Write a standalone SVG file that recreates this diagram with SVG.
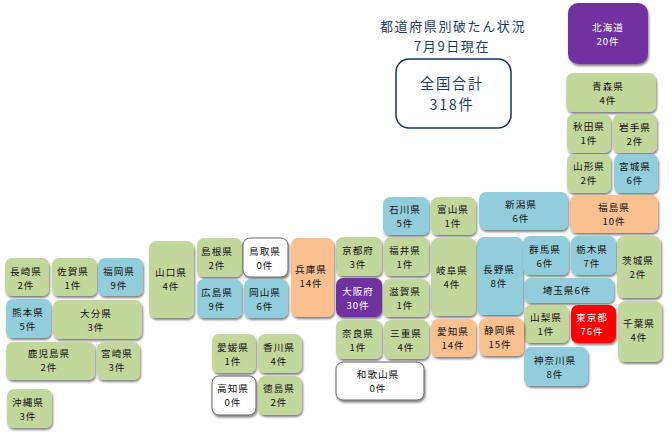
<svg xmlns="http://www.w3.org/2000/svg" width="672" height="437" viewBox="0 0 672 437">
<style>
text{font-family:"Noto Sans CJK JP","Liberation Sans",sans-serif;font-size:9.6px;letter-spacing:1px;text-anchor:middle;fill:#111}
rect{filter:url(#s)}
.g{fill:#C3D69B}.b{fill:#92CDDC}.o{fill:#FAC090}.p{fill:#7030A0}.r{fill:#FF0000}
.w{fill:#fff;stroke:#666;stroke-width:1}
.l text{fill:#fff}
.t text{fill:#1F3C5C}
.h{font-size:13px;letter-spacing:1.6px}
.n{font-size:14.3px;letter-spacing:1.7px}
</style>
<defs><filter id="s" x="-20%" y="-20%" width="140%" height="140%"><feDropShadow dx="1" dy="2" stdDeviation="1.2" flood-color="#000" flood-opacity="0.5"/></filter></defs>
<rect width="672" height="437" fill="#fff" style="filter:none"/>
<g id="title" class="t"><text class="h" x="453" y="31">都道府県別破たん状況<tspan x="452" dy="19.5">7月9日現在</tspan></text></g>
<g id="total" class="t"><rect x="396" y="59" width="115" height="69" rx="13" fill="#fff" stroke="#17375E" stroke-width="1.5" style="filter:none"/><text class="n" x="452" y="88.500" >全国合計<tspan x="452" dy="21">318件</tspan></text></g>
<g id="hokkaido" class="l"><rect class="p" x="568" y="3" width="80" height="61" rx="10"/><text x="608" y="31">北海道<tspan x="608" dy="14">20件</tspan></text></g>
<g id="aomori"><rect class="g" x="566" y="73" width="90" height="39" rx="7"/><text x="608" y="90">青森県<tspan x="608" dy="14">4件</tspan></text></g>
<g id="akita"><rect class="g" x="567" y="114" width="44" height="39" rx="7"/><text x="589" y="130">秋田県<tspan x="589" dy="14">1件</tspan></text></g>
<g id="iwate"><rect class="g" x="613" y="114" width="44" height="39" rx="7"/><text x="635" y="131">岩手県<tspan x="635" dy="14">2件</tspan></text></g>
<g id="yamagata"><rect class="g" x="567" y="154" width="44" height="39" rx="7"/><text x="589" y="170">山形県<tspan x="589" dy="14">2件</tspan></text></g>
<g id="miyagi"><rect class="b" x="614" y="154" width="44" height="39" rx="7"/><text x="635" y="170">宮城県<tspan x="635" dy="14">6件</tspan></text></g>
<g id="fukushima"><rect class="o" x="570" y="195" width="88" height="38" rx="7"/><text x="614" y="211">福島県<tspan x="614" dy="14">10件</tspan></text></g>
<g id="niigata"><rect class="b" x="479" y="192" width="89" height="38" rx="7"/><text x="521" y="208">新潟県<tspan x="521" dy="14">6件</tspan></text></g>
<g id="ishikawa"><rect class="b" x="383" y="197" width="46" height="38" rx="7"/><text x="405" y="213">石川県<tspan x="405" dy="14">5件</tspan></text></g>
<g id="toyama"><rect class="g" x="431" y="197" width="45" height="38" rx="7"/><text x="453" y="213">富山県<tspan x="453" dy="14">1件</tspan></text></g>
<g id="kyoto"><rect class="g" x="336" y="237" width="46" height="39" rx="7"/><text x="358" y="254">京都府<tspan x="358" dy="14">3件</tspan></text></g>
<g id="fukui"><rect class="g" x="384" y="237" width="45" height="39" rx="7"/><text x="405" y="254">福井県<tspan x="405" dy="14">1件</tspan></text></g>
<g id="gifu"><rect class="g" x="431" y="238" width="45" height="78" rx="7"/><text x="452" y="274">岐阜県<tspan x="452" dy="14">4件</tspan></text></g>
<g id="nagano"><rect class="b" x="477" y="237" width="46" height="78" rx="7"/><text x="499" y="273">長野県<tspan x="499" dy="14">8件</tspan></text></g>
<g id="gunma"><rect class="b" x="523" y="236" width="46" height="39" rx="7"/><text x="545" y="253">群馬県<tspan x="545" dy="14">6件</tspan></text></g>
<g id="tochigi"><rect class="b" x="571" y="236" width="45" height="39" rx="7"/><text x="592" y="253">栃木県<tspan x="592" dy="14">7件</tspan></text></g>
<g id="ibaraki"><rect class="g" x="617" y="236" width="44" height="62" rx="7"/><text x="638" y="264">茨城県<tspan x="638" dy="14">2件</tspan></text></g>
<g id="saitama"><rect class="b" x="524" y="278" width="90" height="25" rx="7"/><text x="567" y="294">埼玉県6件</text></g>
<g id="osaka" class="l"><rect class="p" x="336" y="278" width="46" height="39" rx="7"/><text x="358" y="295">大阪府<tspan x="358" dy="14">30件</tspan></text></g>
<g id="shiga"><rect class="g" x="383" y="279" width="46" height="38" rx="7"/><text x="405" y="295">滋賀県<tspan x="405" dy="14">1件</tspan></text></g>
<g id="yamanashi"><rect class="g" x="524" y="305" width="45" height="38" rx="7"/><text x="546" y="321">山梨県<tspan x="546" dy="14">1件</tspan></text></g>
<g id="tokyo" class="l"><rect class="r" x="571" y="305" width="45" height="38" rx="7"/><text x="592" y="321">東京都<tspan x="592" dy="14">76件</tspan></text></g>
<g id="chiba"><rect class="g" x="618" y="301" width="44" height="61" rx="7"/><text x="639" y="327">千葉県<tspan x="639" dy="14">4件</tspan></text></g>
<g id="nara"><rect class="g" x="336" y="320" width="46" height="39" rx="7"/><text x="358" y="337">奈良県<tspan x="358" dy="14">1件</tspan></text></g>
<g id="mie"><rect class="g" x="384" y="320" width="45" height="39" rx="7"/><text x="406" y="337">三重県<tspan x="406" dy="14">4件</tspan></text></g>
<g id="aichi"><rect class="o" x="431" y="319" width="45" height="38" rx="7"/><text x="453" y="335">愛知県<tspan x="453" dy="14">14件</tspan></text></g>
<g id="shizuoka"><rect class="o" x="479" y="318" width="45" height="38" rx="7"/><text x="500" y="334">静岡県<tspan x="500" dy="14">15件</tspan></text></g>
<g id="kanagawa"><rect class="b" x="524" y="347" width="64" height="39" rx="7"/><text x="555" y="364">神奈川県<tspan x="555" dy="14">8件</tspan></text></g>
<g id="wakayama"><rect class="w" x="336" y="362" width="88" height="38" rx="7"/><text x="378" y="378">和歌山県<tspan x="378" dy="14">0件</tspan></text></g>
<g id="hyogo"><rect class="o" x="291" y="238" width="43" height="79" rx="7"/><text x="311" y="273">兵庫県<tspan x="311" dy="14">14件</tspan></text></g>
<g id="shimane"><rect class="g" x="197" y="238" width="45" height="39" rx="7"/><text x="217" y="255">島根県<tspan x="217" dy="14">2件</tspan></text></g>
<g id="tottori"><rect class="w" x="243" y="238" width="45" height="39" rx="7"/><text x="265" y="255">鳥取県<tspan x="265" dy="14">0件</tspan></text></g>
<g id="hiroshima"><rect class="b" x="197" y="279" width="45" height="39" rx="7"/><text x="217" y="296">広島県<tspan x="217" dy="14">9件</tspan></text></g>
<g id="okayama"><rect class="b" x="244" y="279" width="44" height="39" rx="7"/><text x="265" y="296">岡山県<tspan x="265" dy="14">6件</tspan></text></g>
<g id="yamaguchi"><rect class="g" x="149" y="241" width="45" height="77" rx="7"/><text x="171" y="276">山口県<tspan x="171" dy="14">4件</tspan></text></g>
<g id="ehime"><rect class="g" x="212" y="334" width="44" height="39" rx="7"/><text x="233" y="351">愛媛県<tspan x="233" dy="14">1件</tspan></text></g>
<g id="kagawa"><rect class="g" x="258" y="334" width="44" height="39" rx="7"/><text x="279" y="351">香川県<tspan x="279" dy="14">4件</tspan></text></g>
<g id="kochi"><rect class="w" x="212" y="376" width="44" height="39" rx="7"/><text x="233" y="392">高知県<tspan x="233" dy="14">0件</tspan></text></g>
<g id="tokushima"><rect class="g" x="258" y="376" width="44" height="39" rx="7"/><text x="279" y="392">徳島県<tspan x="279" dy="14">2件</tspan></text></g>
<g id="nagasaki"><rect class="g" x="5" y="258" width="44" height="38" rx="7"/><text x="26" y="275">長崎県<tspan x="26" dy="14">2件</tspan></text></g>
<g id="saga"><rect class="g" x="52" y="258" width="45" height="38" rx="7"/><text x="73" y="275">佐賀県<tspan x="73" dy="14">1件</tspan></text></g>
<g id="fukuoka"><rect class="b" x="98" y="258" width="45" height="38" rx="7"/><text x="119" y="275">福岡県<tspan x="119" dy="14">9件</tspan></text></g>
<g id="kumamoto"><rect class="b" x="6" y="299" width="45" height="39" rx="7"/><text x="28" y="316">熊本県<tspan x="28" dy="14">5件</tspan></text></g>
<g id="oita"><rect class="g" x="53" y="300" width="89" height="39" rx="7"/><text x="96" y="317">大分県<tspan x="96" dy="14">3件</tspan></text></g>
<g id="kagoshima"><rect class="g" x="6" y="342" width="89" height="38" rx="7"/><text x="49" y="357">鹿児島県<tspan x="49" dy="14">2件</tspan></text></g>
<g id="miyazaki"><rect class="g" x="97" y="342" width="43" height="38" rx="7"/><text x="117" y="357">宮崎県<tspan x="117" dy="14">3件</tspan></text></g>
<g id="okinawa"><rect class="g" x="7" y="389" width="45" height="39" rx="7"/><text x="28" y="406">沖縄県<tspan x="28" dy="14">3件</tspan></text></g>
<g id="connectors"/>
</svg>
